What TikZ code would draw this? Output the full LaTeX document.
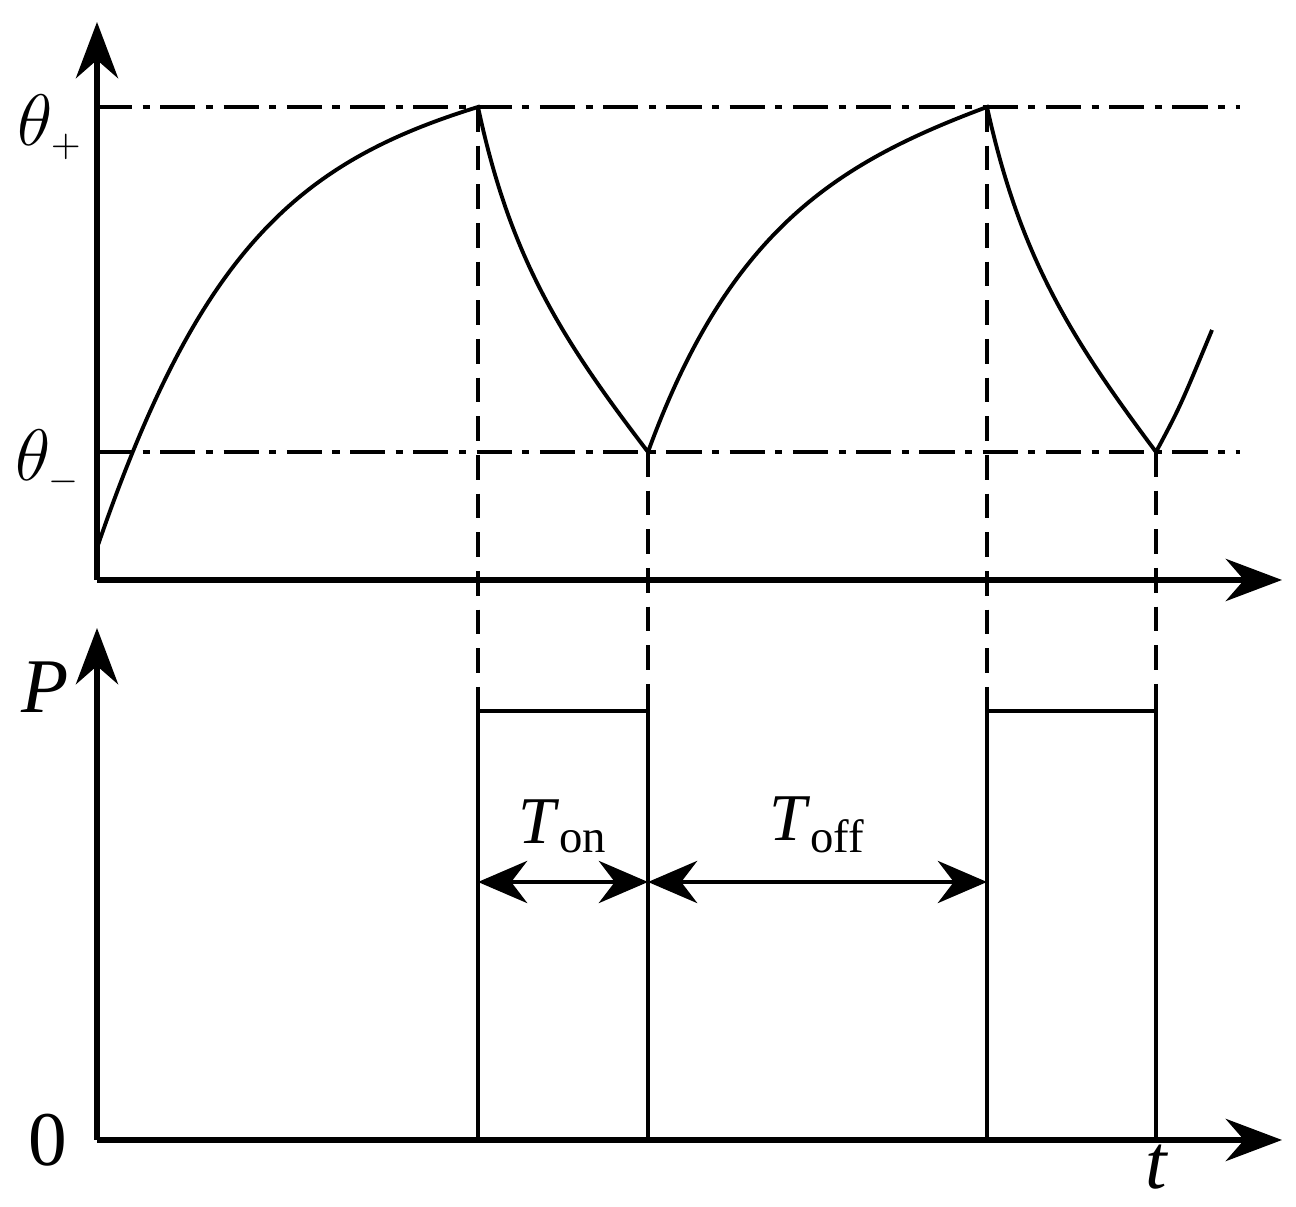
\documentclass[tikz,border=0pt]{standalone}
\usepackage{fontspec}
\setmainfont{Liberation Serif}
\usetikzlibrary{arrows.meta,positioning}

\begin{document}
\begin{tikzpicture}[
  axis/.style = {line width=1.6pt, -{Stealth[length=16pt,width=12pt]}},
  guide/.style = {line width=0.9pt, dash pattern=on 10pt off 3pt on 2pt off 3pt},
  drop/.style = {line width=0.9pt, dashed, dash pattern=on 7pt off 4pt},
  span/.style = {line width=1.2pt, {Stealth[length=14pt,width=12pt]}-{Stealth[length=14pt,width=12pt]}},
  lbl/.style = {font=\fontsize{22}{26}\selectfont\itshape, inner sep=0pt}
]
\useasboundingbox (0,0) rectangle (12.96,12.07);
% axes
\coordinate (o1) at (0.97,6.27);
\coordinate (o2) at (0.97,0.67);
\draw[axis] (o1) -- (0.97,11.85);
\draw[axis] (0.97,6.27) -- (12.82,6.27);
\draw[axis] (o2) -- (0.97,5.79);
\draw[axis] (0.97,0.67) -- (12.82,0.67);
% levels
\coordinate (hi1) at (4.78,11.00);
\coordinate (lo1) at (6.48,7.55);
\coordinate (hi2) at (9.87,11.00);
\coordinate (lo2) at (11.56,7.55);
\draw[guide] (0.97,11.00) -- (12.40,11.00);
\draw[guide] (0.97,7.55) -- (12.40,7.55);
% temperature
\draw[line width=1.1pt] (0.97,6.59) .. controls (2.0,9.6) and (3.0,10.45) .. (hi1)
  .. controls (5.1,9.5) and (5.6,8.7) .. (lo1)
  .. controls (7.3,9.8) and (8.4,10.45) .. (hi2)
  .. controls (10.2,9.5) and (10.7,8.7) .. (lo2)
  .. controls (11.8,8.0) .. (12.12,8.77);
% drops
\foreach \c in {hi1,lo1,hi2,lo2}
  \draw[drop] (\c) -- (\c |- 0,4.96);
% pulses
\draw[line width=1.1pt] (4.78,0.67) -- (4.78,4.96) -- (6.48,4.96) -- (6.48,0.67);
\draw[line width=1.1pt] (9.87,0.67) -- (9.87,4.96) -- (11.56,4.96) -- (11.56,0.67);
% spans
\draw[span] (4.78,3.25) -- node[above=0.15cm, font=\fontsize{19}{22}\selectfont] (ton) {\textit{T}\textsubscript{on}} (6.48,3.25);
\draw[span] (6.48,3.25) -- node[above=0.15cm, font=\fontsize{19}{22}\selectfont] (toff) {\textit{T}\textsubscript{off}} (9.87,3.25);
% labels
\node[lbl] (thp) at (0.50,10.80) {$\theta_{\scriptscriptstyle +}$};
\node[lbl] (thm) at (0.48,7.45) {$\theta_{\scriptscriptstyle -}$};
\node[lbl] (p) at (0.45,5.20) {P};
\node[lbl] (zero) at (0.48,0.67) {\upshape 0};
\node[lbl] (t) at (11.56,0.40) {t};
\end{tikzpicture}
\end{document}
